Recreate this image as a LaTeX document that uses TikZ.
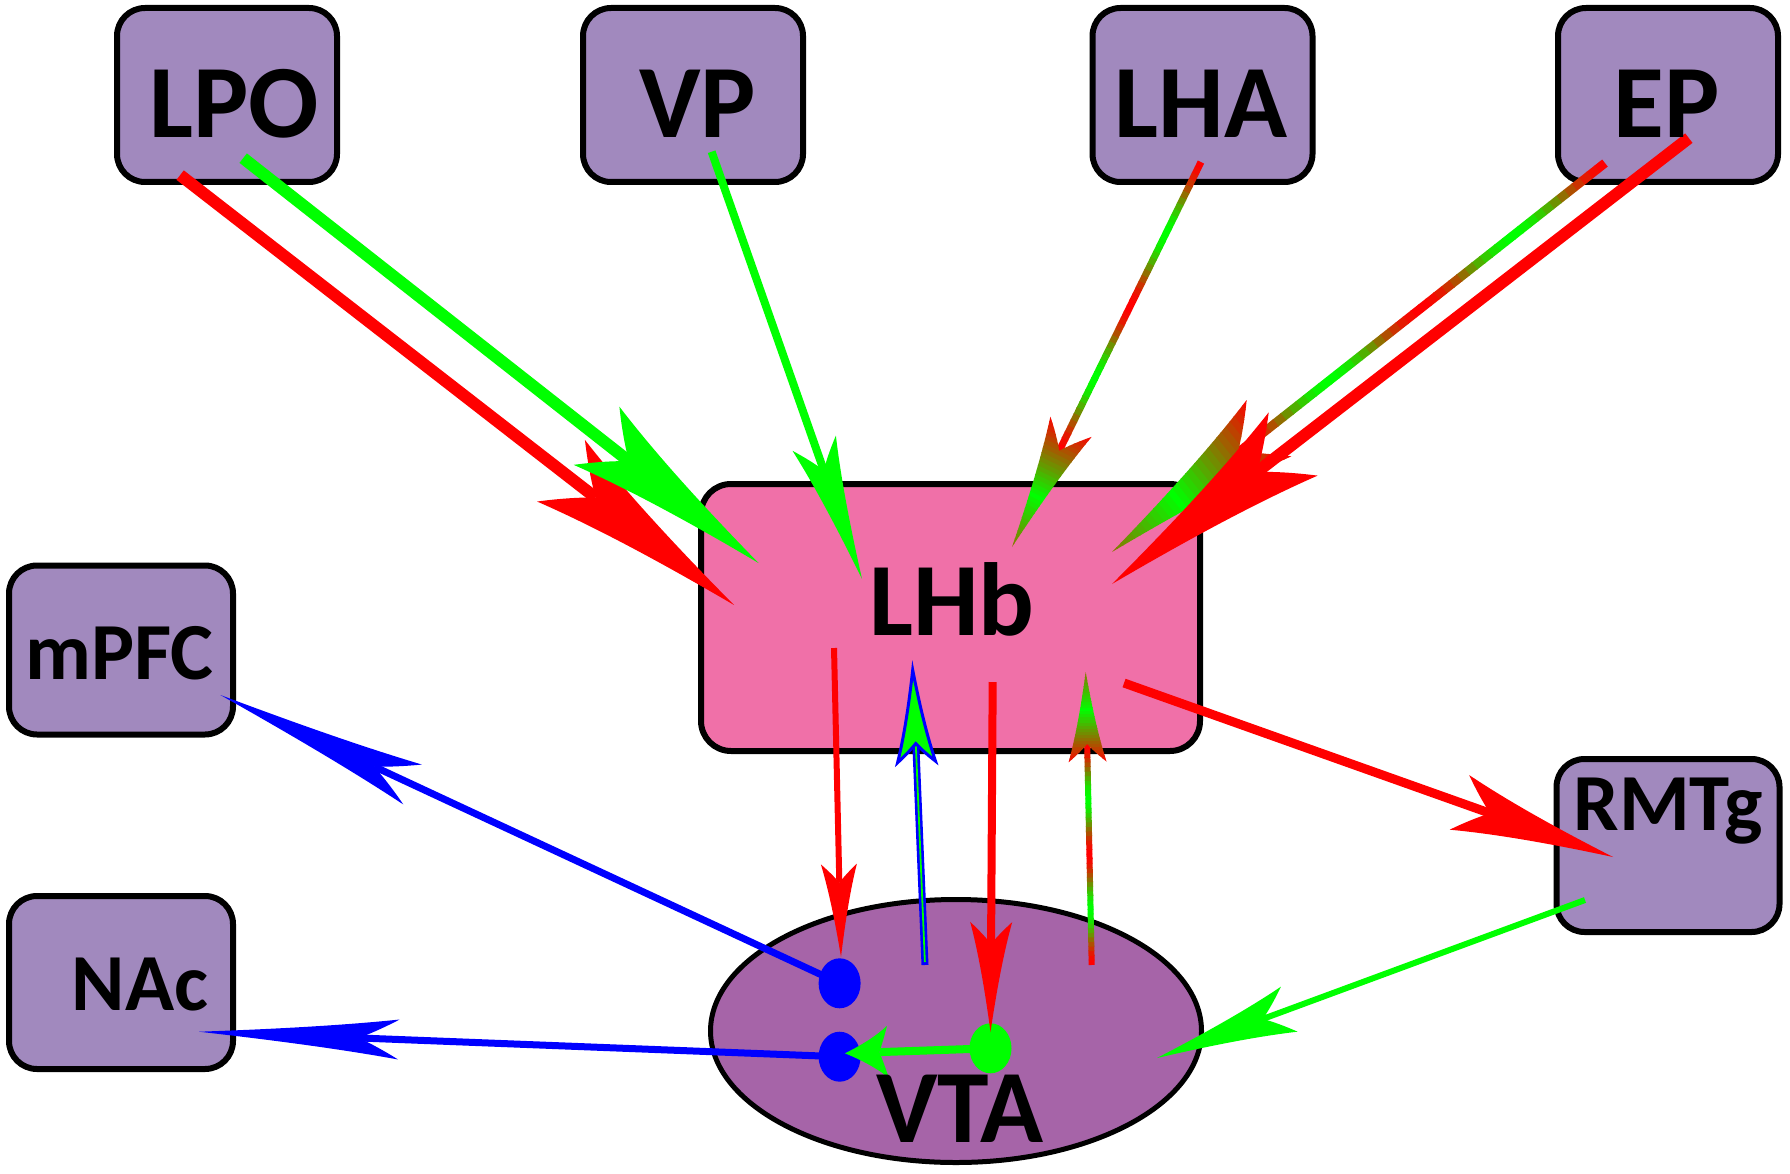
\documentclass[tikz,border=0pt]{standalone}
\usepackage{fontspec}
\usetikzlibrary{shapes.geometric}
\newfontfamily\lblfont{Carlito}
\definecolor{boxc}{RGB}{161,137,190}
\definecolor{lhbc}{RGB}{240,112,168}
\definecolor{vtac}{RGB}{166,100,168}
\definecolor{pgreen}{RGB}{0,255,0}
\definecolor{pred}{RGB}{255,0,0}
\definecolor{pblue}{RGB}{0,0,255}

\newcommand\getang[2]{%
  \path (#1); \pgfgetlastxy{\ax}{\ay}%
  \path (#2); \pgfgetlastxy{\bx}{\by}%
  \pgfmathsetmacro\arrang{atan2(\by-\ay,\bx-\ax)}%
  \pgfmathsetmacro\arrlen{veclen(\bx-\ax,\by-\ay)}%
}
\def\headpath{(0,0) .. controls ({-0.38*\hl},{0.28*\hw}) and ({-0.72*\hl},{0.6*\hw}) .. ({-\hl},{\hw})
  .. controls ({-0.93*\hl},{0.6*\hw}) and ({-0.86*\hl},{0.25*\hw}) .. ({-0.8*\hl},0)
  .. controls ({-0.86*\hl},{-0.25*\hw}) and ({-0.93*\hl},{-0.6*\hw}) .. ({-\hl},{-\hw})
  .. controls ({-0.72*\hl},{-0.6*\hw}) and ({-0.38*\hl},{-0.28*\hw}) .. (0,0) -- cycle}

% #1 colour, #2 start, #3 tip, #4 line width, #5 head length, #6 head half width
\newcommand\solidarrow[6]{%
  \getang{#2}{#3}%
  \begin{scope}[shift={(#3)}, rotate=\arrang]
    \def\hl{#5}\def\hw{#6}%
    \fill[#1] ({-\arrlen},{-#4/2}) rectangle ({-0.8*#5},{#4/2});
    \fill[#1] \headpath;
  \end{scope}}

% #1 start, #2 tip, #3 line width, #4 head length, #5 head half width
\newcommand\gradarrow[5]{%
  \getang{#1}{#2}%
  \begin{scope}[shift={(#2)}, rotate=\arrang]
    \def\hl{#4}\def\hw{#5}%
    \pgfmathsetmacro\shl{\arrlen-0.8*#4}%
    \pgfmathsetmacro\sstep{\shl/48}%
    \foreach \i in {0,...,47}{%
      \pgfmathsetmacro\cc{cos(7.5*\i+3.75)}%
      \pgfmathsetmacro\pp{int(round(100*\cc*\cc))}%
      \pgfmathsetmacro\xa{-\arrlen+\i*\sstep}%
      \pgfmathsetmacro\xb{\xa+\sstep+0.8}%
      \fill[pred!\pp!pgreen] (\xa,{-#3/2}) rectangle (\xb,{#3/2});
    }
    \begin{scope}
      \clip \headpath;
      \pgfmathsetmacro\hstep{\hl/30}%
      \foreach \j in {0,...,29}{%
        \pgfmathsetmacro\tpar{(\j+0.5)/30}%
        \ifdim\tpar pt<0.58pt
          \pgfmathsetmacro\pp{int(round(100-100*\tpar/0.58))}%
        \else
          \pgfmathsetmacro\pp{int(round(55*(\tpar-0.58)/0.42))}%
        \fi
        \pgfmathsetmacro\xa{-\hl+\j*\hstep}%
        \pgfmathsetmacro\xb{\xa+\hstep+0.8}%
        \fill[pred!\pp!pgreen] (\xa,{-\hw-3}) rectangle (\xb,{\hw+3});
      }
    \end{scope}
  \end{scope}}

\tikzset{
  region/.style={draw=black, line width=6pt, rounded corners=28pt, fill=boxc,
    minimum width=220pt, minimum height=174pt, inner sep=0pt},
  biglbl/.style={anchor=base, inner sep=0pt, font=\lblfont\bfseries\fontsize{104}{110}\selectfont},
  smalllbl/.style={anchor=base, inner sep=0pt, font=\lblfont\bfseries\fontsize{81}{86}\selectfont},
  dot/.style={ellipse, inner sep=0pt, minimum width=42pt, minimum height=50pt},
}

\begin{document}
\begin{tikzpicture}[x=1pt,y=-1pt]
\useasboundingbox (0,0) rectangle (1790,1174);

% regions
\node[region] (LPO) at (227,95) {};
\node[region] (VP) at (693,95) {};
\node[region] (LHA) at (1202.5,95) {};
\node[region] (EP) at (1668,95) {};
\node[region, minimum width=224pt, minimum height=169pt] (mPFC) at (121,650) {};
\node[region, minimum width=224pt, minimum height=173pt] (NAc) at (121,982.5) {};
\node[region, minimum width=223pt, minimum height=173pt] (RMTg) at (1668,845.5) {};
\node[region, fill=lhbc, minimum width=499pt, minimum height=267pt, rounded corners=30pt] (LHb) at (950.5,617.5) {};
\node[ellipse, draw=black, line width=5pt, fill=vtac, minimum width=491pt, minimum height=263pt, inner sep=0pt] (VTA) at (956,1031) {};

% dots inside VTA
\node[dot, fill=pblue] (dA) at (839.6,983.3) {};
\node[dot, fill=pblue] (dB) at (839.6,1056.7) {};
\node[dot, fill=pgreen] (dG) at (990.5,1048.3) {};

% connector end points
\coordinate (lpoR) at (180,175);   \coordinate (lhbR1) at (734,605);
\coordinate (lpoG) at (243,158);   \coordinate (lhbG1) at (758.5,563);
\coordinate (vpG) at (711.6,151.7); \coordinate (lhbG2) at (862,579);
\coordinate (lhaX) at (1201,162);  \coordinate (lhbX1) at (1012,547);
\coordinate (epX) at (1605,163);   \coordinate (lhbX2) at (1112,552);
\coordinate (epR) at (1689,138);   \coordinate (lhbR2) at (1112,584);
\coordinate (lhbR3) at (1124,683); \coordinate (rmtgT) at (1613,857);
\coordinate (rmtgS) at (1585,900); \coordinate (vtaT1) at (1157,1058);
\coordinate (lhbR4) at (834,648);  \coordinate (vtaT2) at (841,957);
\coordinate (vtaB) at (925,965);   \coordinate (lhbT1) at (912.7,670);
\coordinate (lhbR5) at (992.7,682); \coordinate (vtaT3) at (990.5,1032);
\coordinate (vtaX) at (1091.7,965); \coordinate (lhbT2) at (1085.7,672);
\coordinate (mpfcT) at (220.4,695);
\coordinate (nacT) at (199,1031.7);
\coordinate (dBT) at (844.9,1053.3);

% connectors
\solidarrow{pred}{lpoR}{lhbR1}{12}{219}{39}
\solidarrow{pgreen}{lpoG}{lhbG1}{12}{206}{37}
\solidarrow{pgreen}{vpG}{lhbG2}{8}{144}{23}
\gradarrow{lhaX}{lhbX1}{7}{134}{23}
\gradarrow{epX}{lhbX2}{9}{200}{36}
\solidarrow{pred}{epR}{lhbR2}{12}{229}{40}
\solidarrow{pred}{lhbR3}{rmtgT}{9}{163}{29}
\solidarrow{pgreen}{rmtgS}{vtaT1}{6}{141}{24}
\solidarrow{pblue}{dA}{mpfcT}{7}{212}{22}
\solidarrow{pblue}{dB}{nacT}{7}{200}{20}
\solidarrow{pred}{lhbR4}{vtaT2}{6}{93}{18}
\solidarrow{pred}{lhbR5}{vtaT3}{8}{110}{21}
\gradarrow{vtaX}{lhbT2}{6}{90}{19}
\solidarrow{pgreen}{dG}{dBT}{8}{43}{26}

% blue/green connector VTA -> LHb
\getang{vtaB}{lhbT1}
\begin{scope}[shift={(lhbT1)}, rotate=\arrang]
  \def\hl{92}\def\hw{19}
  \fill[pblue] ({-\arrlen},-3.5) rectangle ({-0.8*\hl},3.5);
  \fill[pgreen] ({-\arrlen+3},-0.9) rectangle ({-0.8*\hl},0.9);
  \filldraw[fill=pgreen, draw=pblue, line width=3pt] \headpath;
\end{scope}

% labels
\node[biglbl] (tLPO) at (234,138) {LPO};
\node[biglbl] (tVP) at (697.5,138) {VP};
\node[biglbl] (tLHA) at (1201,138) {LHA};
\node[biglbl] (tEP) at (1666.5,138) {EP};
\node[biglbl] (tLHb) at (952,635) {LHb};
\node[biglbl] (tVTA) at (960,1142) {VTA};
\node[smalllbl] (tmPFC) at (119.6,679) {mPFC};
\node[smalllbl] (tNAc) at (140,1010) {NAc};
\node[smalllbl] (tRMTg) at (1668,830) {RMTg};
\end{tikzpicture}
\end{document}
